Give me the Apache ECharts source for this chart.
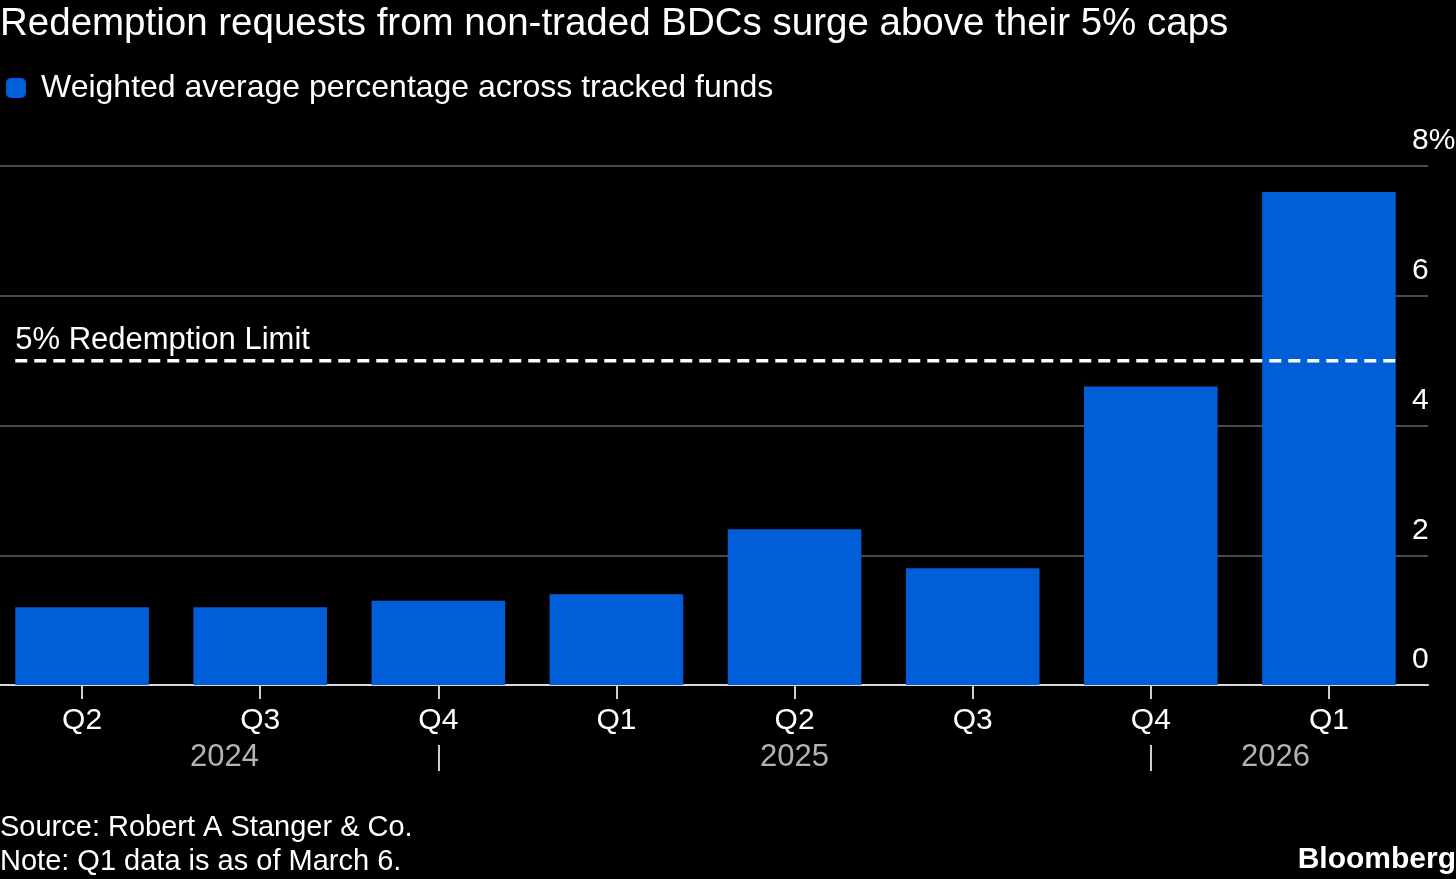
<!DOCTYPE html>
<html>
<head>
<meta charset="utf-8">
<script src="https://cdn.jsdelivr.net/npm/echarts@6/dist/echarts.min.js"></script>
<style>
html,body{margin:0;padding:0;background:#000;}
#chart{width:1456px;height:879px;}
</style>
</head>
<body>
<div id="chart"></div>
<script>
const categories = ['Q2', 'Q3', 'Q4', 'Q1', 'Q2', 'Q3', 'Q4', 'Q1'];
const values = [1.2, 1.2, 1.3, 1.4, 2.4, 1.8, 4.6, 7.6];
const seriesName = 'Weighted average percentage across tracked funds';
const limitValue = 5;
const limitLabel = '5% Redemption Limit';
const yearLabels = ['2024', '2025', '2026'];
const yearLabelPos = [0.8, 4, 6.7];
const yearDividerPos = [2, 6];
const yMax = 8;
const yInterval = 2;

const FONT = '"Liberation Sans", Arial, sans-serif';
const BLUE = '#005ED8';
const chart = echarts.init(document.getElementById('chart'));

const half = 0.375;
const limitData = [
  { value: [-half, limitValue], label: { show: true, formatter: limitLabel, position: 'top', align: 'left', distance: 5, color: '#fff', fontSize: 31, fontFamily: FONT } },
  { value: [categories.length - 1 + half, limitValue] }
];
const yearMap = {};
yearLabelPos.forEach((p, i) => { yearMap[p] = yearLabels[i]; });

chart.setOption({
  backgroundColor: '#000',
  animation: false,
  title: [
    { text: 'Redemption requests from non-traded BDCs surge above their 5% caps', left: 0, top: 5, padding: 0,
      textStyle: { color: '#fff', fontSize: 38.5, fontWeight: 'normal', fontFamily: FONT } },
    { text: 'Source: Robert A Stanger & Co.\nNote: Q1 data is as of March 6.', left: 0, top: 811, padding: 0,
      textStyle: { color: '#fff', fontSize: 29, lineHeight: 34, fontWeight: 'normal', fontFamily: FONT } },
    { text: 'Bloomberg', right: 0, top: 845, padding: 0,
      textStyle: { color: '#fff', fontSize: 30, fontWeight: 'bold', fontFamily: FONT } }
  ],
  legend: {
    left: 6, top: 72, padding: 0, itemWidth: 20, itemHeight: 20, itemGap: 10,
    icon: 'roundRect', data: [seriesName],
    textStyle: { color: '#fff', fontSize: 32, fontFamily: FONT, padding: [0, 0, 0, 10] }
  },
  grid: [
    { left: -7, right: 38, top: 166, bottom: 194, containLabel: false, outerBoundsMode: 'none' },
    { left: 0, right: 28, top: 166, bottom: 194, containLabel: false, outerBoundsMode: 'none' }
  ],
  xAxis: [
    { type: 'category', gridIndex: 0, data: categories,
      axisLine: { show: true, lineStyle: { color: '#d9d9d9', width: 2 } },
      axisTick: { show: true, alignWithLabel: true, length: 14, lineStyle: { color: '#cfcfcf', width: 2 } },
      axisLabel: { color: '#fff', fontSize: 30, fontFamily: FONT, margin: 21 } },
    { type: 'value', gridIndex: 0, min: -0.5, max: categories.length - 0.5, position: 'bottom', offset: 60,
      axisLine: { show: false }, splitLine: { show: false },
      axisTick: { show: true, customValues: yearDividerPos, length: 26, lineStyle: { color: '#cfcfcf', width: 2 } },
      axisLabel: { show: true, customValues: yearLabelPos, formatter: v => yearMap[v] || '', margin: -3,
        color: '#b3b3b3', fontSize: 31, fontFamily: FONT } },
    { type: 'value', gridIndex: 1, min: 0, max: 1,
      axisLine: { show: true, lineStyle: { color: '#d9d9d9', width: 2 } },
      axisTick: { show: false }, axisLabel: { show: false }, splitLine: { show: false } }
  ],
  yAxis: [
    { type: 'value', gridIndex: 0, min: 0, max: yMax, interval: yInterval, show: false, splitLine: { show: false } },
    { type: 'value', gridIndex: 1, min: 0, max: yMax, interval: yInterval, position: 'right',
      axisLine: { show: false }, axisTick: { show: false },
      splitLine: { show: true, lineStyle: { color: '#4a4a4a', width: 2 } },
      axisLabel: { color: '#fff', fontSize: 30, fontFamily: FONT, margin: -16, align: 'left',
        verticalAlign: 'bottom', padding: [0, 0, 10, 0],
        formatter: v => v === yMax ? v + '%' : String(v) } }
  ],
  series: [
    { name: seriesName, type: 'bar', xAxisIndex: 0, yAxisIndex: 0, data: values,
      barCategoryGap: '25%', itemStyle: { color: BLUE }, z: 3 },
    { name: 'limit', type: 'line', xAxisIndex: 1, yAxisIndex: 0, data: limitData,
      symbol: 'circle', symbolSize: 0, showSymbol: true, z: 5,
      lineStyle: { color: '#fff', width: 3.5, type: [12, 7] }, label: { show: false } }
  ]
});
</script>
</body>
</html>
